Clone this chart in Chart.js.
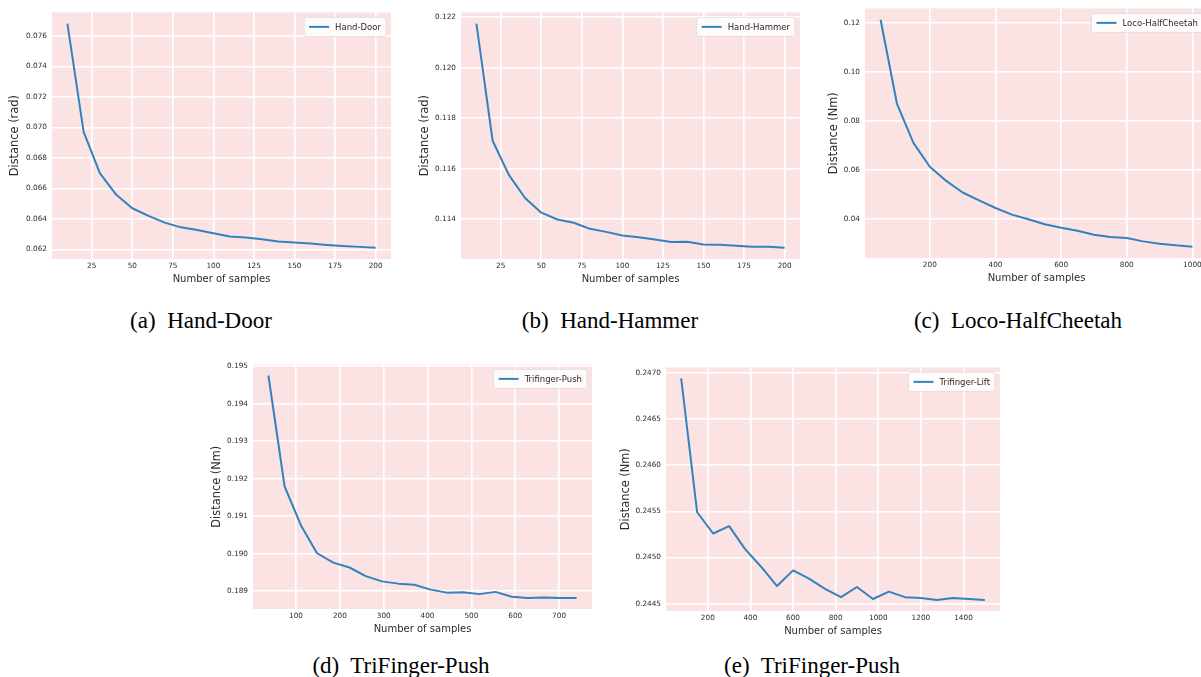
<!DOCTYPE html>
<html>
<head>
<meta charset="utf-8">
<script src="https://cdn.jsdelivr.net/npm/chart.js@4.4.1/dist/chart.umd.min.js"></script>
<style>
  body { margin: 0; width: 1201px; height: 677px; overflow: hidden; background: #fff; position: relative; }
  canvas { position: absolute; }
  .cap { position: absolute; font-family: "Liberation Serif", "Times New Roman", serif; font-size: 23px; line-height: 24px; color: #000; white-space: pre; transform: translateX(-50%); }
</style>
</head>
<body>
<div class="cap" style="left:201px; top:309px;">(a)  Hand-Door</div>
<div class="cap" style="left:610px; top:309px;">(b)  Hand-Hammer</div>
<div class="cap" style="left:1018px; top:309px;">(c)  Loco-HalfCheetah</div>
<div class="cap" style="left:401px; top:654px;">(d)  TriFinger-Push</div>
<div class="cap" style="left:812px; top:654px;">(e)  TriFinger-Push</div>
<script>
// data
const handDoorX = [10, 20, 30, 40, 50, 60, 70, 80, 90, 100, 110, 120, 130, 140, 150, 160, 170, 180, 190, 200];
const handDoorY = [0.0768, 0.0697, 0.0670, 0.0656, 0.0647, 0.0642, 0.06376, 0.06345, 0.06328, 0.06306, 0.06285, 0.06278, 0.06267, 0.06252, 0.06246, 0.06239, 0.0623, 0.06222, 0.06217, 0.06211];

const handHammerX = [10, 20, 30, 40, 50, 60, 70, 80, 90, 100, 110, 120, 130, 140, 150, 160, 170, 180, 190, 200];
const handHammerY = [0.12175, 0.11711, 0.11576, 0.11484, 0.11426, 0.11399, 0.11386, 0.11362, 0.1135, 0.11336, 0.11329, 0.1132, 0.1131, 0.11311, 0.113, 0.11299, 0.11295, 0.11291, 0.11291, 0.11287];

const cheetahX = [50, 100, 150, 200, 250, 300, 350, 400, 450, 500, 550, 600, 650, 700, 750, 800, 850, 900, 950, 1000];
const cheetahY = [0.12121, 0.08687, 0.07098, 0.06128, 0.05549, 0.05077, 0.04754, 0.04444, 0.04175, 0.03987, 0.03785, 0.03636, 0.03515, 0.03354, 0.0326, 0.0322, 0.03084, 0.0299, 0.02922, 0.02869];

const pushX = [37, 74, 111, 148, 185, 222, 259, 296, 333, 370, 407, 444, 481, 518, 555, 592, 629, 666, 703, 740];
const pushY = [0.19475, 0.19179, 0.19076, 0.19001, 0.18976, 0.18963, 0.1894, 0.18926, 0.1892, 0.18917, 0.18904, 0.18896, 0.18897, 0.18892, 0.18898, 0.18885, 0.18882, 0.18883, 0.18882, 0.18882];

const liftX = [75, 150, 225, 300, 375, 450, 525, 600, 675, 750, 825, 900, 975, 1050, 1125, 1200, 1275, 1350, 1425, 1500];
const liftY = [0.24694, 0.24549, 0.24526, 0.24534, 0.24509, 0.2449, 0.24469, 0.24486, 0.24477, 0.24466, 0.24457, 0.24468, 0.24455, 0.24463, 0.24457, 0.24456, 0.24454, 0.24456, 0.24455, 0.24454];

// ticks
const handXTicks = [25, 50, 75, 100, 125, 150, 175, 200];
const handXLabels = ['25', '50', '75', '100', '125', '150', '175', '200'];
const doorYTicks = [0.062, 0.064, 0.066, 0.068, 0.070, 0.072, 0.074, 0.076];
const doorYLabels = ['0.062', '0.064', '0.066', '0.068', '0.070', '0.072', '0.074', '0.076'];
const hammerYTicks = [0.114, 0.116, 0.118, 0.120, 0.122];
const hammerYLabels = ['0.114', '0.116', '0.118', '0.120', '0.122'];
const cheetahXTicks = [200, 400, 600, 800, 1000];
const cheetahXLabels = ['200', '400', '600', '800', '1000'];
const cheetahYTicks = [0.04, 0.06, 0.08, 0.10, 0.12];
const cheetahYLabels = ['0.04', '0.06', '0.08', '0.10', '0.12'];
const pushXTicks = [100, 200, 300, 400, 500, 600, 700];
const pushXLabels = ['100', '200', '300', '400', '500', '600', '700'];
const pushYTicks = [0.189, 0.190, 0.191, 0.192, 0.193, 0.194, 0.195];
const pushYLabels = ['0.189', '0.190', '0.191', '0.192', '0.193', '0.194', '0.195'];
const liftXTicks = [200, 400, 600, 800, 1000, 1200, 1400];
const liftXLabels = ['200', '400', '600', '800', '1000', '1200', '1400'];
const liftYTicks = [0.2445, 0.2450, 0.2455, 0.2460, 0.2465, 0.2470];
const liftYLabels = ['0.2445', '0.2450', '0.2455', '0.2460', '0.2465', '0.2470'];

const PINK = '#fbe3e4';
const BLUE = '#3282be';
const TXT = '#2b2b2b';
const FONT = '"DejaVu Sans", sans-serif';
const YW = 60, XH = 34, PT = 8, PR = 12;

// matplotlib style 5% margins
function range(vals) {
    const lo = Math.min(...vals), hi = Math.max(...vals);
    const p = (hi - lo) * 0.05;
    return [lo - p, hi + p];
}

const bgPlugin = {
    id: 'bg',
    beforeDraw(chart) {
        const { ctx, chartArea: a } = chart;
        ctx.save();
        ctx.fillStyle = PINK;
        ctx.fillRect(a.left, a.top, a.width, a.height);
        ctx.restore();
    }
};

// legend box inside the plot, top right
const legendPlugin = {
    id: 'insideLegend',
    afterDatasetsDraw(chart) {
        const { ctx, chartArea: a } = chart;
        const label = chart.data.datasets[0].label;
        ctx.save();
        ctx.font = '8.5px ' + FONT;
        const tw = ctx.measureText(label).width;
        const w = 5 + 20 + 6 + tw + 5, h = 19;
        const x = a.right - 5 - w, y = a.top + 5;
        ctx.beginPath();
        ctx.roundRect(x, y, w, h, 2);
        ctx.fillStyle = 'rgba(255,255,255,0.85)';
        ctx.fill();
        ctx.strokeStyle = '#dcdcdc';
        ctx.lineWidth = 0.8;
        ctx.stroke();
        ctx.beginPath();
        ctx.moveTo(x + 5, y + h / 2);
        ctx.lineTo(x + 25, y + h / 2);
        ctx.strokeStyle = BLUE;
        ctx.lineWidth = 2;
        ctx.stroke();
        ctx.fillStyle = TXT;
        ctx.textBaseline = 'middle';
        ctx.fillText(label, x + 31, y + h / 2 + 0.5);
        ctx.restore();
    }
};

function makeChart(spec) {
    const [l, t, r, b] = spec.box;
    const cv = document.createElement('canvas');
    cv.width = (r - l) + YW + PR;
    cv.height = (b - t) + PT + XH;
    cv.style.left = (l - YW) + 'px';
    cv.style.top = (t - PT) + 'px';
    document.body.appendChild(cv);

    const [xmin, xmax] = range(spec.x);
    const [ymin, ymax] = range(spec.y);
    const grid = { color: '#ffffff', lineWidth: 1.6, drawTicks: false };

    new Chart(cv, {
        type: 'line',
        data: {
            datasets: [{
                label: spec.label,
                data: spec.x.map((v, i) => ({ x: v, y: spec.y[i] })),
                borderColor: BLUE,
                borderWidth: 2,
                borderJoinStyle: 'round',
                pointRadius: 0,
                tension: 0,
                fill: false
            }]
        },
        options: {
            responsive: false,
            animation: false,
            layout: { padding: { top: PT, right: PR, left: 0, bottom: 0 } },
            plugins: { legend: { display: false }, tooltip: { enabled: false } },
            scales: {
                x: {
                    type: 'linear',
                    min: xmin,
                    max: xmax,
                    afterBuildTicks: s => { s.ticks = spec.xTicks.map(v => ({ value: v })); },
                    afterFit: s => { s.height = XH; },
                    grid: grid,
                    border: { display: false },
                    ticks: {
                        autoSkip: false, maxRotation: 0, padding: 3,
                        color: TXT, font: { family: FONT, size: 7.3 },
                        callback: (v, i) => spec.xLabels[i]
                    },
                    title: {
                        display: true, text: 'Number of samples', color: TXT,
                        font: { family: FONT, size: 10 },
                        padding: { top: 0, bottom: 8 }
                    }
                },
                y: {
                    type: 'linear',
                    min: ymin,
                    max: ymax,
                    afterBuildTicks: s => { s.ticks = spec.yTicks.map(v => ({ value: v })); },
                    afterFit: s => { s.width = YW; },
                    grid: grid,
                    border: { display: false },
                    ticks: {
                        autoSkip: false, padding: 5,
                        color: TXT, font: { family: FONT, size: 7.3 },
                        callback: (v, i) => spec.yLabels[i]
                    },
                    title: {
                        display: true, text: spec.yTitle, color: TXT,
                        font: { family: FONT, size: 11.4 },
                        padding: { top: YW - spec.titleGap - 6.8, bottom: 0 }
                    }
                }
            }
        },
        plugins: [bgPlugin, legendPlugin]
    });
}

makeChart({ label: 'Hand-Door', x: handDoorX, y: handDoorY, xTicks: handXTicks, xLabels: handXLabels,
    yTicks: doorYTicks, yLabels: doorYLabels, yTitle: 'Distance (rad)', box: [52, 11, 391, 259], titleGap: 36.5 });
makeChart({ label: 'Hand-Hammer', x: handHammerX, y: handHammerY, xTicks: handXTicks, xLabels: handXLabels,
    yTicks: hammerYTicks, yLabels: hammerYLabels, yTitle: 'Distance (rad)', box: [461, 11, 800, 259], titleGap: 36 });
makeChart({ label: 'Loco-HalfCheetah', x: cheetahX, y: cheetahY, xTicks: cheetahXTicks, xLabels: cheetahXLabels,
    yTicks: cheetahYTicks, yLabels: cheetahYLabels, yTitle: 'Distance (Nm)', box: [865, 7, 1208, 258], titleGap: 31 });
makeChart({ label: 'Trifinger-Push', x: pushX, y: pushY, xTicks: pushXTicks, xLabels: pushXLabels,
    yTicks: pushYTicks, yLabels: pushYLabels, yTitle: 'Distance (Nm)', box: [253, 363, 592, 609], titleGap: 36 });
makeChart({ label: 'Trifinger-Lift', x: liftX, y: liftY, xTicks: liftXTicks, xLabels: liftXLabels,
    yTicks: liftYTicks, yLabels: liftYLabels, yTitle: 'Distance (Nm)', box: [666, 366, 1000, 611], titleGap: 40 });
</script>
</body>
</html>
